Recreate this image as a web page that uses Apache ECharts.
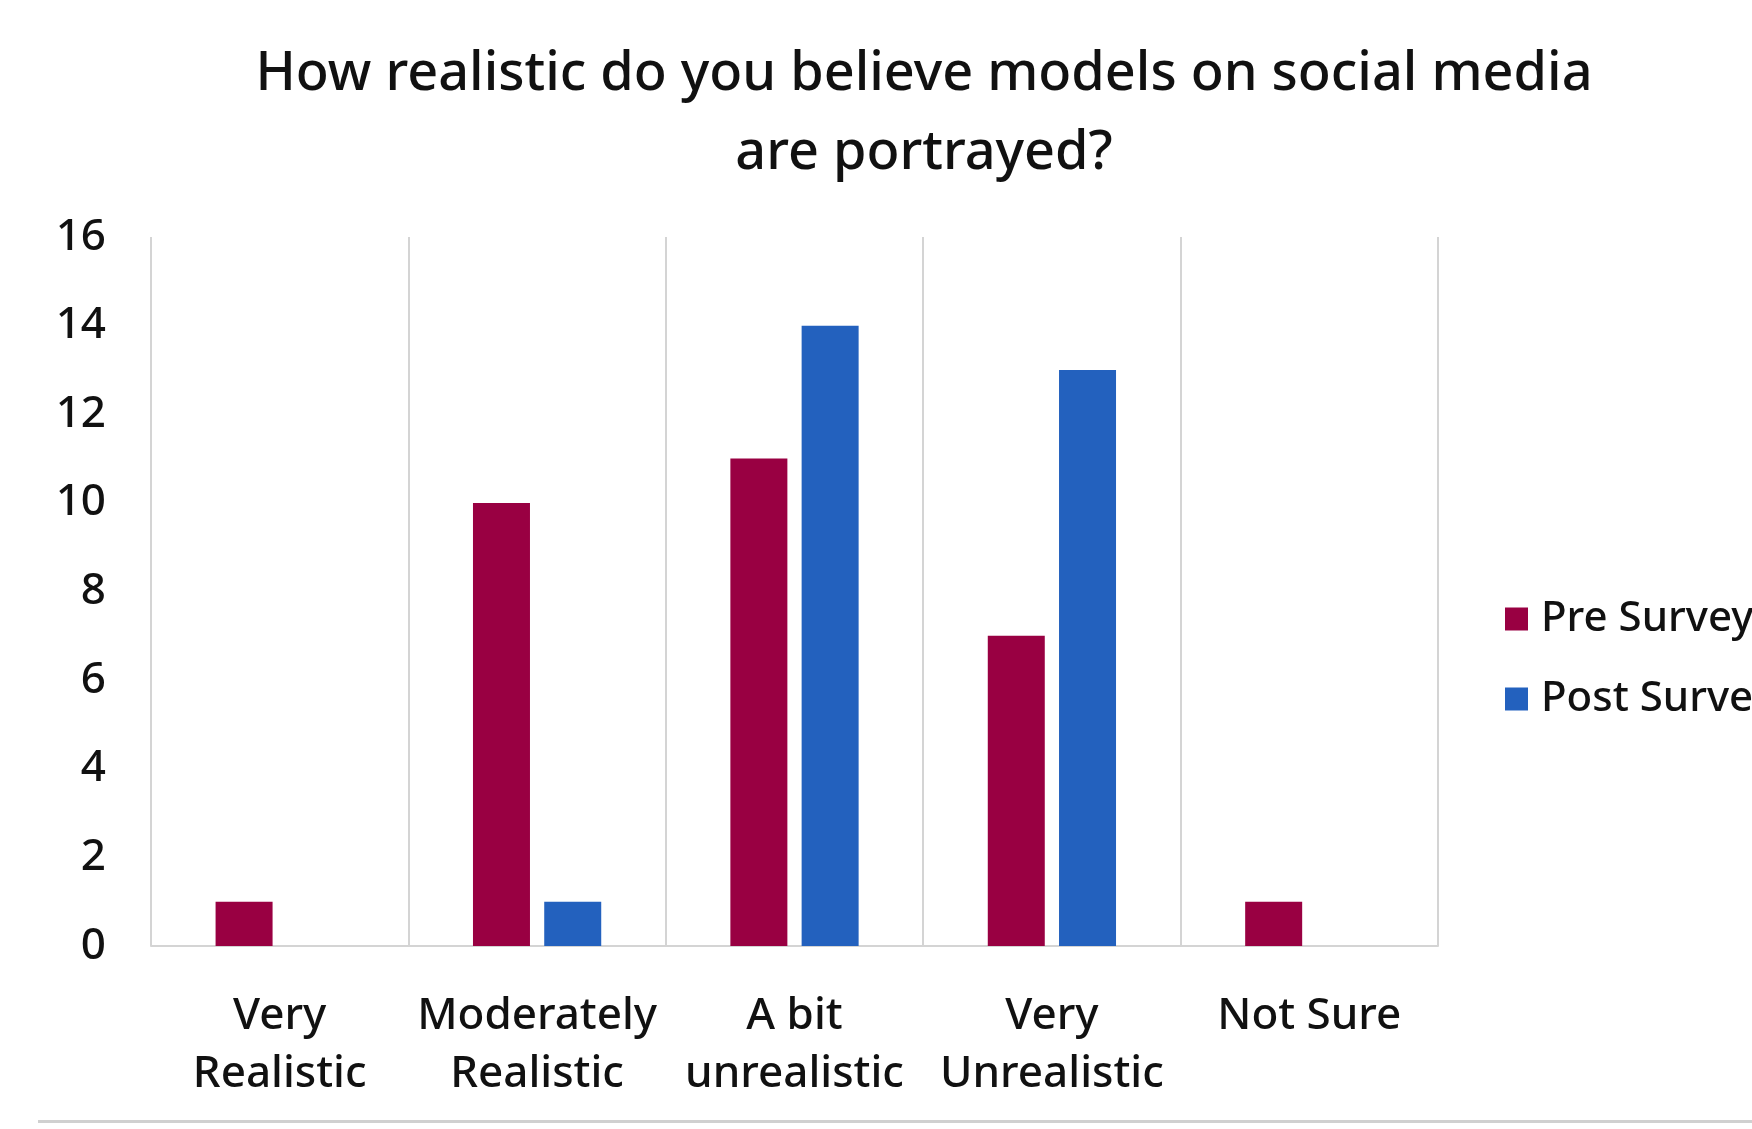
<!DOCTYPE html>
<html>
<head>
<meta charset="utf-8">
<script src="https://cdn.jsdelivr.net/npm/echarts@6/dist/echarts.min.js"></script>
<style>
  html, body { margin: 0; padding: 0; background: #ffffff; }
  #chart { width: 1752px; height: 1129px; }
</style>
</head>
<body>
<div id="chart"></div>
<script>
// Survey answers, before and after
const categories = ['Very\nRealistic', 'Moderately\nRealistic', 'A bit\nunrealistic', 'Very\nUnrealistic', 'Not Sure'];
const preSurvey = [1, 10, 11, 7, 1];
const postSurvey = [0, 1, 14, 13, 0];
const yTicks = { min: 0, max: 16, interval: 2 };

const FONT = 'Noto Sans';
const INK = '#111111';
const chart = echarts.init(document.getElementById('chart'), null, { renderer: 'canvas' });

chart.setOption({
  backgroundColor: '#ffffff',
  animation: false,
  title: {
    text: 'How realistic do you believe models on social media\nare portrayed?',
    left: 919,
    top: 30,
    textAlign: 'center',
    textStyle: {
      fontFamily: FONT,
      fontSize: 54,
      fontWeight: 500,
      color: INK,
      lineHeight: 79
    }
  },
  legend: {
    orient: 'vertical',
    left: 1500,
    top: 593,
    itemWidth: 23,
    itemHeight: 23,
    itemGap: 38,
    icon: 'rect',
    textStyle: { fontFamily: FONT, fontSize: 42, fontWeight: 500, color: INK, padding: [0, 0, 0, 8] },
    data: ['Pre Survey', 'Post Survey']
  },
  grid: { left: 151, right: 314, top: 237, bottom: 183 },
  xAxis: {
    type: 'category',
    data: categories,
    axisLine: { show: true, lineStyle: { color: '#d4d4d4', width: 2 } },
    axisTick: { show: false },
    splitLine: { show: true, lineStyle: { color: '#d4d4d4', width: 2 } },
    axisLabel: {
      interval: 0,
      margin: 41,
      fontFamily: FONT,
      fontSize: 44,
      fontWeight: 500,
      lineHeight: 58,
      color: INK
    }
  },
  yAxis: {
    type: 'value',
    min: yTicks.min,
    max: yTicks.max,
    interval: yTicks.interval,
    axisLine: { show: false },
    axisTick: { show: false },
    splitLine: { show: false },
    axisLabel: {
      margin: 45,
      fontFamily: FONT,
      fontSize: 44,
      fontWeight: 500,
      color: INK
    }
  },
  series: [
    {
      name: 'Pre Survey',
      type: 'bar',
      data: preSurvey,
      barWidth: 57,
      barGap: '25%',
      itemStyle: { color: '#990042' }
    },
    {
      name: 'Post Survey',
      type: 'bar',
      data: postSurvey,
      barWidth: 57,
      barGap: '25%',
      itemStyle: { color: '#2361be' }
    }
  ],
  graphic: [
    {
      type: 'rect',
      shape: { x: 38, y: 1120, width: 1714, height: 3 },
      style: { fill: '#d0d0d0' },
      silent: true
    }
  ]
});
</script>
</body>
</html>
